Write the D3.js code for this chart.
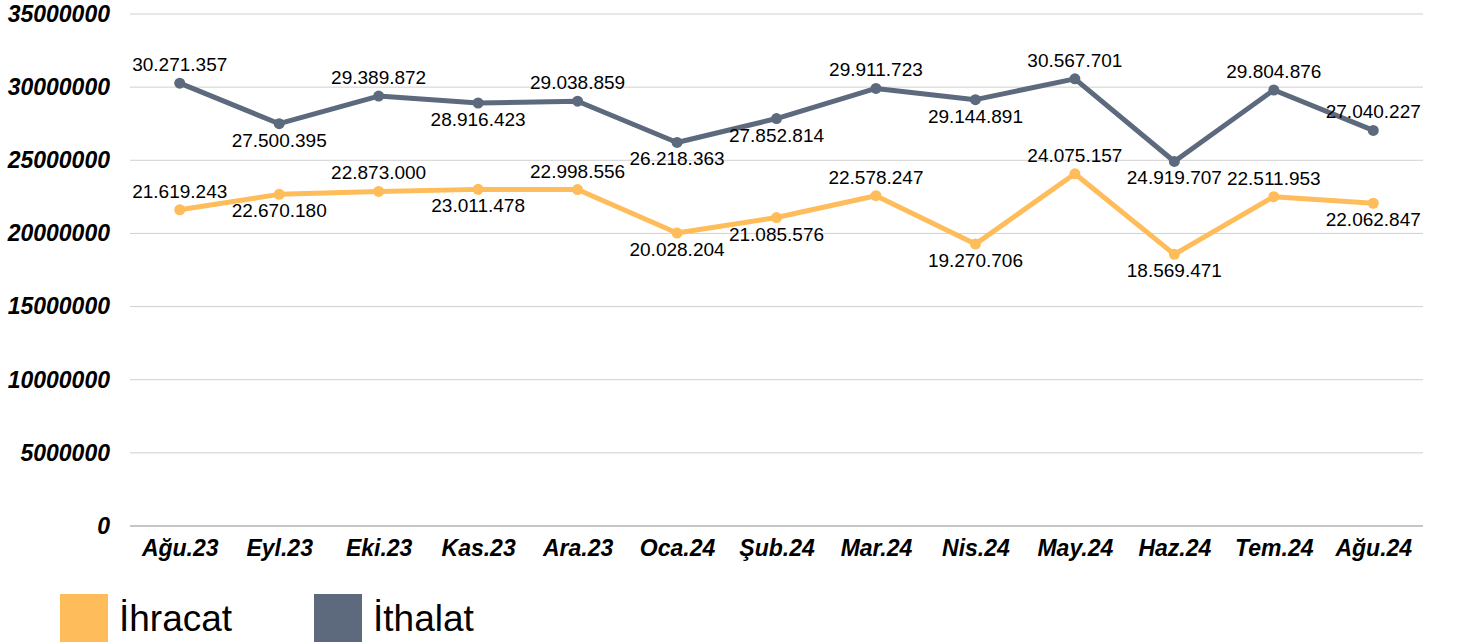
<!DOCTYPE html>
<html>
<head>
<meta charset="utf-8">
<script src="https://cdn.jsdelivr.net/npm/d3@7"></script>
<style>
  body { margin: 0; background: #fff; }
  svg { display: block; font-family: 'Liberation Sans', Arial, sans-serif; }
</style>
</head>
<body>
<svg width="1466" height="644"></svg>
<script>
const months = ['Ağu.23', 'Eyl.23', 'Eki.23', 'Kas.23', 'Ara.23', 'Oca.24', 'Şub.24', 'Mar.24', 'Nis.24', 'May.24', 'Haz.24', 'Tem.24', 'Ağu.24']
const ihracat = [21619243, 22670180, 22873000, 23011478, 22998556, 20028204, 21085576, 22578247, 19270706, 24075157, 18569471, 22511953, 22062847]
const ithalat = [30271357, 27500395, 29389872, 28916423, 29038859, 26218363, 27852814, 29911723, 29144891, 30567701, 24919707, 29804876, 27040227]
const ihracatSide = ['up', 'down', 'up', 'down', 'up', 'down', 'down', 'up', 'down', 'up', 'down', 'up', 'down']
const ithalatSide = ['up', 'down', 'up', 'down', 'up', 'down', 'down', 'up', 'down', 'up', 'down', 'up', 'up']
const yTicks = [0, 5000000, 10000000, 15000000, 20000000, 25000000, 30000000, 35000000]

const svg = d3.select('svg')
const plot = { left: 130, right: 1423, top: 14, bottom: 526 }

const x = d3.scalePoint().domain(months).range([plot.left, plot.right]).padding(0.5)
const y = d3.scaleLinear().domain([0, 35000000]).range([plot.bottom, plot.top])
const fmt = v => d3.format(',')(v).replace(/,/g, '.')

// grid
svg.append('g').selectAll('line').data(yTicks.filter(d => d > 0)).join('line')
  .attr('x1', plot.left).attr('x2', plot.right)
  .attr('y1', d => y(d)).attr('y2', d => y(d))
  .attr('stroke', '#d0d0d0').attr('stroke-width', 1)
svg.append('line').attr('x1', plot.left).attr('x2', plot.right).attr('y1', plot.bottom).attr('y2', plot.bottom)
  .attr('stroke', '#8c8c8c').attr('stroke-width', 1)

// y axis labels
const yAxis = d3.axisLeft(y).tickValues(yTicks).tickFormat(d => d).tickSize(0).tickPadding(20)
svg.append('g').attr('transform', `translate(${plot.left},0)`).call(yAxis)
  .call(g => g.select('.domain').remove())
  .selectAll('text')
  .attr('font-family', "'Liberation Sans', Arial, sans-serif")
  .attr('font-size', 23).attr('font-weight', 'bold').attr('font-style', 'italic')
  .attr('fill', '#000')

// x axis labels
const xAxis = d3.axisBottom(x).tickSize(0).tickPadding(14)
svg.append('g').attr('transform', `translate(0,${plot.bottom})`).call(xAxis)
  .call(g => g.select('.domain').remove())
  .selectAll('text')
  .attr('font-family', "'Liberation Sans', Arial, sans-serif")
  .attr('font-size', 23).attr('font-weight', 'bold').attr('font-style', 'italic')
  .attr('fill', '#000')

const series = [
  { name: 'İhracat', values: ihracat, side: ihracatSide, color: '#ffbc5a' },
  { name: 'İthalat', values: ithalat, side: ithalatSide, color: '#5d6a7e' }
]

const line = d3.line().x((d, i) => x(months[i])).y(d => y(d))

series.forEach(s => {
  const g = svg.append('g')
  g.append('path').datum(s.values)
    .attr('d', line).attr('fill', 'none')
    .attr('stroke', s.color).attr('stroke-width', 5).attr('stroke-linejoin', 'round')
  g.selectAll('circle').data(s.values).join('circle')
    .attr('cx', (d, i) => x(months[i])).attr('cy', d => y(d)).attr('r', 5.5)
    .attr('fill', s.color)
  g.selectAll('text').data(s.values).join('text')
    .attr('x', (d, i) => x(months[i]))
    .attr('y', (d, i) => s.side[i] === 'up' ? y(d) - 12 : y(d) + 23)
    .attr('text-anchor', 'middle')
    .attr('font-size', 19).attr('fill', '#000')
    .text(d => fmt(d))
})

// legend
const legend = svg.append('g')
series.forEach((s, i) => {
  const lx = 60 + i * 254
  legend.append('rect').attr('x', lx).attr('y', 594).attr('width', 48).attr('height', 48).attr('fill', s.color)
  legend.append('text').attr('x', lx + 59).attr('y', 631)
    .attr('font-size', 37).attr('fill', '#000').text(s.name)
})
</script>
</body>
</html>
